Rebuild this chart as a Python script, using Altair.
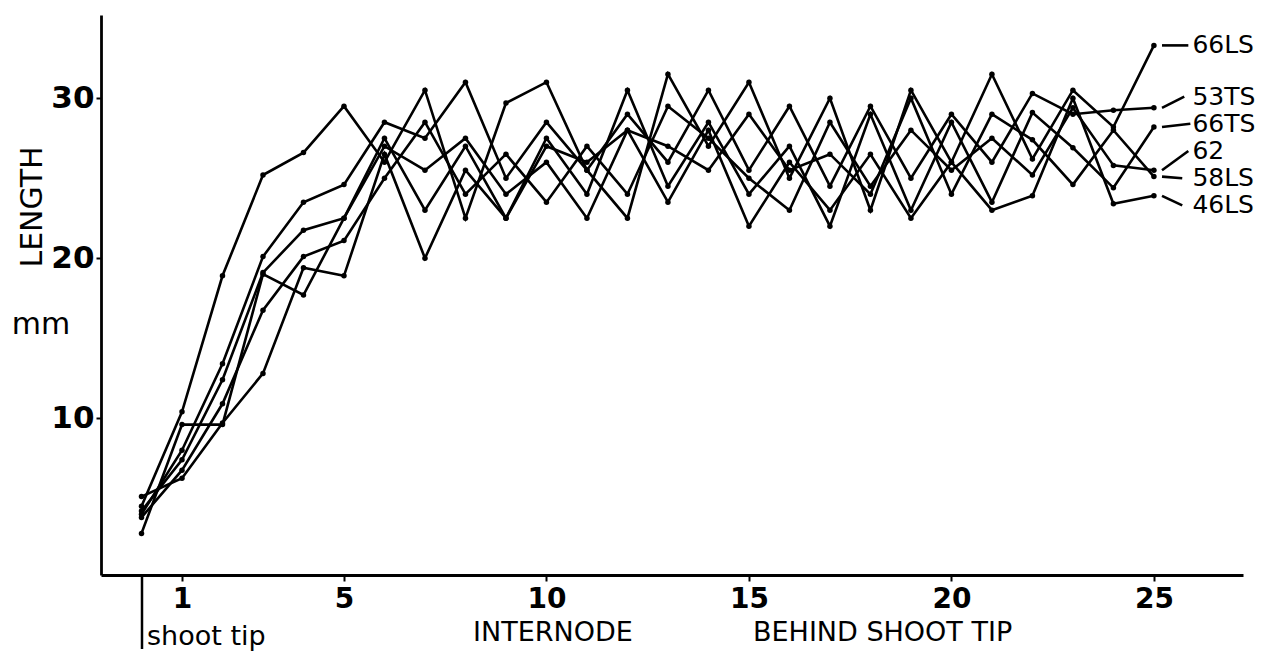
import altair as alt
import pandas as pd

# internode index (0 = shoot tip)
internode = list(range(26))

# lengths in mm
s66LS = [4.5, 10.4, 18.9, 25.2, 26.6, 29.5, 26.0, 30.5, 22.5, 29.7, 31.0, 25.5, 22.5, 31.5, 27.0, 31.0, 25.0, 30.0, 23.0, 30.5, 26.0, 31.5, 26.2, 30.5, 28.2, 33.3]
s53TS = [4.0, 8.0, 13.4, 20.1, 23.5, 24.6, 28.5, 27.5, 31.0, 25.0, 28.5, 25.5, 29.0, 26.0, 30.5, 25.5, 29.5, 24.5, 29.5, 25.0, 29.0, 26.0, 30.3, 29.0, 29.25, 29.4]
s66TS = [4.2, 7.4, 12.4, 19.1, 21.75, 22.5, 27.5, 23.0, 27.0, 22.5, 27.5, 24.0, 30.5, 24.5, 28.5, 24.0, 27.0, 22.0, 29.0, 23.0, 28.5, 23.5, 29.1, 26.9, 24.4, 28.2]
s62   = [3.8, 6.75, 10.9, 16.75, 20.1, 21.1, 25.0, 28.5, 24.0, 26.5, 23.5, 27.0, 24.0, 29.5, 27.5, 25.0, 23.0, 28.5, 24.5, 28.0, 25.5, 27.5, 25.2, 29.4, 25.8, 25.5]
s58LS = [5.1, 6.25, 9.7, 12.8, 19.4, 18.9, 26.5, 20.0, 25.5, 22.5, 27.0, 26.0, 28.0, 27.0, 25.5, 29.0, 25.5, 26.5, 24.0, 30.0, 24.0, 29.0, 27.4, 24.6, 28.0, 25.1]
s46LS = [2.8, 9.6, 9.6, 19.0, 17.7, 22.5, 27.0, 25.5, 27.5, 24.0, 26.0, 22.5, 28.0, 23.5, 28.0, 22.0, 26.0, 23.0, 26.5, 22.5, 26.0, 23.0, 23.9, 30.0, 23.4, 23.9]

series_names = ["66LS", "53TS", "66TS", "62", "58LS", "46LS"]
series_vals = [s66LS, s53TS, s66TS, s62, s58LS, s46LS]

# label positions (mm)
label_y = [33.3, 30.1, 28.4, 26.7, 25.0, 23.3]

rows = []
for name, vals in zip(series_names, series_vals):
    for i, v in zip(internode, vals):
        rows.append({"series": name, "internode": i, "length": v})
df = pd.DataFrame(rows)

lab = pd.DataFrame({
    "series": series_names,
    "x0": [25.2] * 6,
    "x1": [25.85, 25.75, 25.9, 25.85, 25.7, 25.7],
    "y0": [s[-1] for s in series_vals],
    "y1": label_y,
    "xt": [25.95] * 6,
})

xscale = alt.Scale(domain=[-1.0, 27.2], nice=False, zero=False)
yscale = alt.Scale(domain=[0.2, 35.2], nice=False, zero=False)

FONT = "DejaVu Sans"

base = alt.Chart(df)

lines = base.mark_line(color="black", strokeWidth=2.6).encode(
    x=alt.X("internode:Q", scale=xscale,
            axis=alt.Axis(values=[1, 5, 10, 15, 20, 25], title=None, grid=False,
                          domainColor="black", domainWidth=2.8, tickColor="black",
                          tickWidth=2, tickSize=6, labelFont=FONT, labelFontSize=28,
                          labelColor="black", labelPadding=4, labelFontWeight="bold")),
    y=alt.Y("length:Q", scale=yscale,
            axis=alt.Axis(values=[10, 20, 30], title=None, grid=False,
                          domainColor="black", domainWidth=2.8, tickColor="black",
                          tickWidth=2, tickSize=5, labelFont=FONT, labelFontSize=31,
                          labelColor="black", labelPadding=2, labelFontWeight="bold")),
    detail="series:N",
)

points = base.mark_circle(color="black", size=30, opacity=1).encode(
    x=alt.X("internode:Q", scale=xscale),
    y=alt.Y("length:Q", scale=yscale),
)

leaders = alt.Chart(lab).mark_rule(color="black", strokeWidth=2.6).encode(
    x=alt.X("x0:Q", scale=xscale), x2="x1:Q",
    y=alt.Y("y0:Q", scale=yscale), y2="y1:Q",
)

labels = alt.Chart(lab).mark_text(align="left", baseline="middle", font=FONT,
                                   fontSize=25, color="black").encode(
    x=alt.X("xt:Q", scale=xscale),
    y=alt.Y("y1:Q", scale=yscale),
    text="series:N",
)

ann = pd.DataFrame({
    "t": ["LENGTH", "mm", "shoot tip", "INTERNODE", "BEHIND SHOOT TIP"],
    "px": [-68, -60, 46, 372, 652],
    "py": [192, 310, 622, 618, 618],
    "ang": [270, 0, 0, 0, 0],
    "size": [30, 30, 27, 27, 27],
})

def text_layer(idx, align="left"):
    d = ann.iloc[[idx]]
    return alt.Chart(d).mark_text(align=align, baseline="middle", font=FONT,
                                  fontSize=int(d["size"].iloc[0]), color="black",
                                  angle=int(d["ang"].iloc[0])).encode(
        x=alt.value(float(d["px"].iloc[0])), y=alt.value(float(d["py"].iloc[0])), text="t:N")

tip_rule = alt.Chart(pd.DataFrame({"a": [0]})).mark_rule(color="black", strokeWidth=2.5).encode(
    x=alt.value(41), y=alt.value(561), y2=alt.value(634))

chart = alt.layer(
    lines, points, leaders, labels,
    text_layer(0, "center"), text_layer(1, "center"),
    text_layer(2), text_layer(3), text_layer(4),
    tip_rule,
).properties(
    width=1142, height=560,
    autosize=alt.AutoSizeParams(type="none"),
    padding={"left": 93, "top": 7, "right": 29, "bottom": 80},
    background="white",
).configure_view(stroke=None)

chart.save("out.html", embed_options={"renderer": "svg", "actions": False})
